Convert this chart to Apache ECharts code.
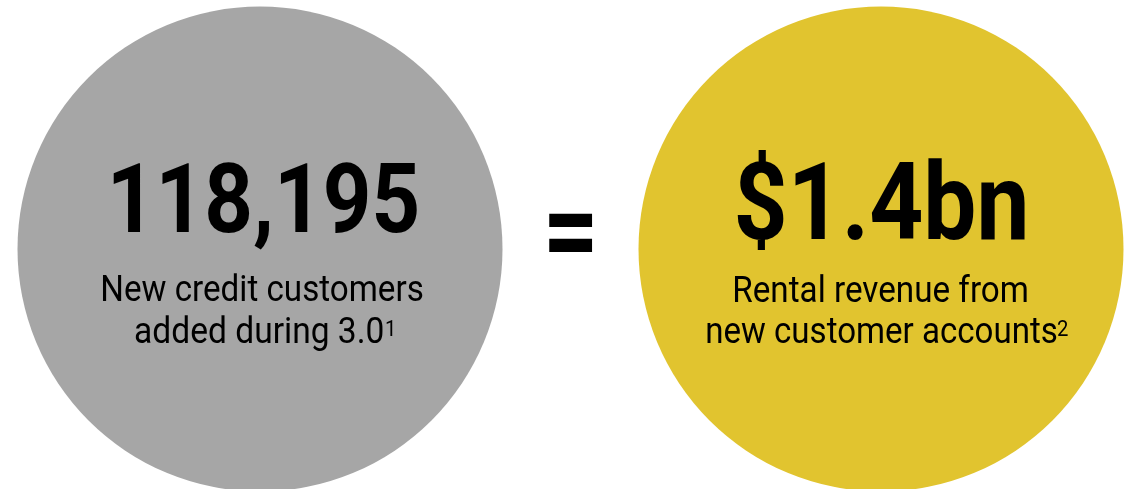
<!DOCTYPE html>
<html>
<head>
<meta charset="utf-8">
<script src="https://cdn.jsdelivr.net/npm/echarts@6/dist/echarts.min.js"></script>
<style>
html,body{margin:0;padding:0;background:#ffffff;}
#chart{width:1134px;height:489px;}
</style>
</head>
<body>
<div id="chart"></div>
<script>
// ---- data ----
const slots = ['customers', 'equals', 'revenue'];
const circleSlots = ['customers', 'revenue'];
const headlines = ['118,195', '$1.4bn'];
const captionLine1 = ['New credit customers', 'Rental revenue from'];
const captionLine2 = ['added during 3.0', 'new customer accounts'];
const footnotes = ['1', '2'];
const operatorSymbol = '=';

// ---- styles / layout (offsets from each circle centre, px) ----
const circleColors = ['#a6a6a6', '#e1c42f'];
const FONT = 'Roboto';
const headSize = [97, 107];
const capSize = 36.6;
const supSize = 22.5;
const layout = [
  { head: { l: -147, r: 157, b: -17 }, l1: { l: -157, r: 163, b: 52 }, l2: { l: -125, r: 123, b: 94 }, sup: { l: 126, b: 87 } },
  { head: { l: -144, r: 144, b: -10 }, l1: { l: -146, r: 146, b: 53 }, l2: { l: -174, r: 176, b: 94 }, sup: { l: 177, b: 87 } }
];
const opBox = { l: -22, r: 22, t: -36, b: 3 }; // relative to middle slot centre

const chart = echarts.init(document.getElementById('chart'), null, { renderer: 'canvas' });
chart.setOption({
  animation: false,
  backgroundColor: '#ffffff',
  grid: { left: 104.75, right: 97.75, top: 9, bottom: 0 },
  xAxis: { type: 'category', data: slots, show: false },
  yAxis: { type: 'value', min: 0, max: 2, show: false },
  series: [{
    type: 'scatter',
    clip: false,
    silent: true,
    symbol: 'circle',
    symbolSize: 485,
    data: circleSlots.map((s, i) => ({ value: [s, 1], itemStyle: { color: circleColors[i], opacity: 1 } }))
  }]
});

const ctx = document.createElement('canvas').getContext('2d');
function measure(text, size, weight) {
  ctx.font = weight + ' ' + size + 'px ' + FONT;
  ctx.textAlign = 'left';
  ctx.textBaseline = 'middle';
  const mid = ctx.measureText(text);
  ctx.textBaseline = 'alphabetic';
  const alpha = ctx.measureText(text);
  return {
    left: mid.actualBoundingBoxLeft,
    right: mid.actualBoundingBoxRight,
    ascMid: mid.actualBoundingBoxAscent,
    descMid: mid.actualBoundingBoxDescent,
    baseOff: alpha.actualBoundingBoxAscent - mid.actualBoundingBoxAscent
  };
}
function textEl(text, size, weight, x, y, sx, sy) {
  return {
    type: 'text', x: x, y: y, scaleX: sx, scaleY: sy, silent: true, z: 10,
    style: {
      text: text, fontSize: size, fontWeight: weight, fontFamily: FONT, fill: '#000000',
      align: 'left', verticalAlign: 'middle', textAlign: 'left', textVerticalAlign: 'middle'
    }
  };
}
// fit ink width between L..R, baseline at B
function fitLine(text, size, weight, L, R, B) {
  const m = measure(text, size, weight);
  const sx = (R - L) / (m.right + m.left);
  const x = L + sx * m.left;
  const y = B - m.baseOff;
  return textEl(text, size, weight, x, y, sx, 1);
}

const els = [];
circleSlots.forEach((s, i) => {
  const c = chart.convertToPixel({ seriesIndex: 0 }, [s, 1]);
  const L = layout[i];
  els.push(fitLine(headlines[i], headSize[i], 'bold', c[0] + L.head.l, c[0] + L.head.r, c[1] + L.head.b));
  els.push(fitLine(captionLine1[i], capSize, 'normal', c[0] + L.l1.l, c[0] + L.l1.r, c[1] + L.l1.b));
  els.push(fitLine(captionLine2[i], capSize, 'normal', c[0] + L.l2.l, c[0] + L.l2.r, c[1] + L.l2.b));
  const ms = measure(footnotes[i], supSize, 'normal');
  const ssx = 0.9;
  els.push(textEl(footnotes[i], supSize, 'normal', c[0] + L.sup.l + ssx * ms.left, c[1] + L.sup.b - ms.baseOff, ssx, 1));
});
// operator
const cm = chart.convertToPixel({ seriesIndex: 0 }, ['equals', 1]);
const mo = measure(operatorSymbol, 100, 'bold');
const osx = (opBox.r - opBox.l) / (mo.right + mo.left);
const osy = (opBox.b - opBox.t) / (mo.ascMid + mo.descMid);
els.push(textEl(operatorSymbol, 100, 'bold', cm[0] + opBox.l + osx * mo.left, cm[1] + opBox.t + osy * mo.ascMid, osx, osy));

chart.setOption({ graphic: { elements: els } });
</script>
</body>
</html>
